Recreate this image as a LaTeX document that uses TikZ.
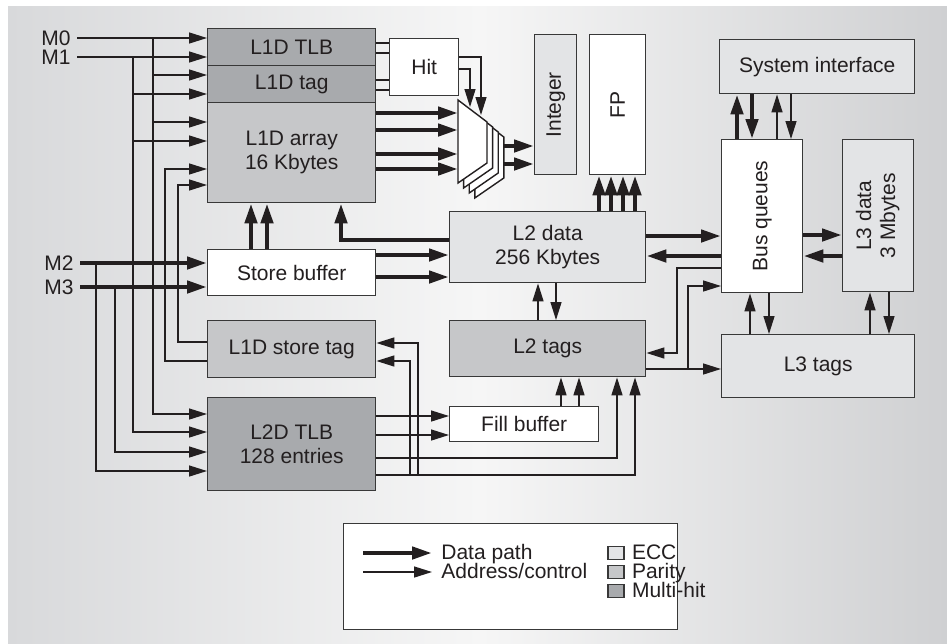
\documentclass[tikz,border=0pt]{standalone}
\usepackage{fontspec}
\setmainfont{Liberation Sans}
\usetikzlibrary{arrows.meta}
\definecolor{bgside}{HTML}{D8D9DB}
\definecolor{bgmid}{HTML}{F6F6F6}
\definecolor{bgright}{HTML}{CFD0D2}
\definecolor{eccfill}{HTML}{E3E4E6}
\definecolor{parfill}{HTML}{C6C7C9}
\definecolor{mhfill}{HTML}{A8AAAD}
\definecolor{inkline}{HTML}{231F20}
\definecolor{boxline}{HTML}{383838}
\tikzset{
  blk/.style={draw=boxline, line width=0.7pt, inner sep=0pt, anchor=north west, font=\fontsize{10.5}{12}\selectfont, text=inkline, align=center},
  sz/.style 2 args={minimum width=#1*0.5pt, minimum height=#2*0.5pt},
  ecc/.style={blk, fill=eccfill},
  par/.style={blk, fill=parfill},
  mhit/.style={blk, fill=mhfill},
  plain/.style={blk, fill=white},
  wire/.style={draw=inkline, line width=0.7pt},
  addr/.style={wire, -{Triangle[length=9pt, width=5.5pt]}},
  dwire/.style={draw=inkline, line width=2.2pt},
  dpath/.style={dwire, -{Triangle[length=10pt, width=6pt]}},
  lbl/.style={font=\fontsize{10.5}{12}\selectfont, text=inkline, inner sep=0pt, inner xsep=3pt, anchor=east},
  keytxt/.style={font=\fontsize{10.5}{12}\selectfont, text=inkline, inner sep=0pt, inner xsep=4.5pt, anchor=west, text height=7.6pt, text depth=1.6pt},
  keybox/.style={draw=boxline, line width=0.6pt, inner sep=0pt, minimum width=8pt, minimum height=6.5pt},
}
\begin{document}
\begin{tikzpicture}[x=0.5pt, y=-0.5pt]
  \useasboundingbox (0,0) rectangle (947,643);
  \fill[white] (0,0) rectangle (947,643);
  \shade[left color=bgside, right color=bgmid] (8,6) rectangle (480,643);
  \shade[left color=bgmid, right color=bgright] (480,6) rectangle (947,643);

  \node[mhit, sz={168}{37}] (l1dtlb) at (207,28) {L1D TLB};
  \node[mhit, sz={168}{37}] (l1dtag) at (207,65) {L1D tag};
  \node[par, sz={168}{100}] (l1darr) at (207,102) {L1D array\\16 Kbytes};
  \node[plain, sz={69}{57}] (hit) at (389,38) {Hit};
  \node[ecc, sz={42}{140}] (intg) at (534,34) {\rotatebox{90}{Integer}};
  \node[plain, sz={56}{140}] (fpu) at (589,34) {\rotatebox{90}{FP}};
  \node[ecc, sz={195}{54}] (sysif) at (719,39) {System interface};
  \node[plain, sz={81}{153}] (busq) at (721,139) {\rotatebox{90}{Bus queues}};
  \node[ecc, sz={71}{152}] (l3data) at (842,139) {\rotatebox{90}{\begin{tabular}{@{}c@{}}L3 data\\3 Mbytes\end{tabular}}};
  \node[ecc, sz={196}{71}] (l2data) at (449,211) {L2 data\\256 Kbytes};
  \node[plain, sz={168}{46}] (stbuf) at (207,249) {Store buffer};
  \node[par, sz={168}{57}] (l1dst) at (207,320) {L1D store tag};
  \node[par, sz={196}{56}] (l2tags) at (449,320) {L2 tags};
  \node[ecc, sz={193}{63}] (l3tags) at (721,334) {L3 tags};
  \node[mhit, sz={168}{93}] (l2dtlb) at (207,397) {L2D TLB\\128 entries};
  \node[plain, sz={149}{35}] (fillbuf) at (449,406) {Fill buffer};

  \node[lbl] (m0) at (77,38) {M0};
  \node[lbl] (m1) at (77,57) {M1};
  \node[lbl] (m2) at (80,263) {M2};
  \node[lbl] (m3) at (80,287) {M3};

  \foreach \k in {3,2,1,0}
    \draw[wire, fill=white, shift={(\k*5.6,\k*5)}] (458,100) -- (487,122) -- (487,163) -- (458,183) -- cycle;
  \coordinate (muxin) at (458,100);
  \coordinate (muxout) at (504,100);

  \draw[addr] (m0.east) -- (l1dtlb.west |- m0.east);
  \draw[addr] (m1.east) -- (l1dtlb.west |- m1.east);
  \draw[dpath] (m2.east) -- (stbuf.west |- m2.east);
  \draw[dpath] (m3.east) -- (stbuf.west |- m3.east);
  \draw[addr] (m0.east -| 153,0) |- (l2dtlb.west |- 0,414);
  \draw[addr] (153,75) -- (l1dtag.west |- 0,75);
  \draw[addr] (153,122) -- (l1darr.west |- 0,122);
  \draw[addr] (m1.east -| 133,0) |- (l2dtlb.west |- 0,432);
  \draw[addr] (133,94) -- (l1dtag.west |- 0,94);
  \draw[addr] (133,141) -- (l1darr.west |- 0,141);
  \draw[addr] (m3.east -| 115,0) |- (l2dtlb.west |- 0,452);
  \draw[addr] (m2.east -| 96,0) |- (l2dtlb.west |- 0,471);
  \draw[addr] (l1dst.west |- 0,342) -| (178,185) -- (l1darr.west |- 0,185);
  \draw[addr] (l1dst.west |- 0,361) -| (165,169) -- (l1darr.west |- 0,169);

  \foreach \y in {43,53} \draw[wire] (l1dtlb.east |- 0,\y) -- (hit.west |- 0,\y);
  \foreach \y in {80,90} \draw[wire] (l1dtag.east |- 0,\y) -- (hit.west |- 0,\y);
  \draw[addr] (hit.east |- 0,57) -| (481,115);
  \draw[addr] (hit.east |- 0,69) -| (470,107);
  \foreach \y in {113,130,154,169} \draw[dpath] (l1darr.east |- 0,\y) -- (muxin |- 0,\y);
  \foreach \y in {146,164} \draw[dpath] (muxout |- 0,\y) -- (intg.west |- 0,\y);

  \foreach \x in {251,267} \draw[dpath] (stbuf.north -| \x,0) -- (l1darr.south -| \x,0);
  \draw[dpath] (l2data.west |- 0,240) -| (l1darr.south -| 341,0);
  \foreach \y in {255,277} \draw[dpath] (stbuf.east |- 0,\y) -- (l2data.west |- 0,\y);
  \foreach \x in {599,611,623,635} \draw[dpath] (l2data.north -| \x,0) -- (fpu.south -| \x,0);

  \draw[addr] (l2tags.north -| 538,0) -- (l2data.south -| 538,0);
  \draw[addr] (l2data.south -| 556,0) -- (l2tags.north -| 556,0);
  \foreach \x in {561,579} \draw[addr] (fillbuf.north -| \x,0) -- (l2tags.south -| \x,0);
  \foreach \y in {416,435} \draw[addr] (l2dtlb.east |- 0,\y) -- (fillbuf.west |- 0,\y);
  \draw[addr] (l2dtlb.east |- 0,458) -| (l2tags.south -| 617,0);
  \draw[addr] (l2dtlb.east |- 0,475) -| (l2tags.south -| 635,0);
  \draw[addr] (418,475) |- (l1dst.east |- 0,343);
  \draw[addr] (410,475) |- (l1dst.east |- 0,361);

  \draw[dpath] (l2data.east |- 0,236) -- (busq.west |- 0,236);
  \draw[dpath] (busq.west |- 0,256) -- (l2data.east |- 0,256);
  \draw[addr] (busq.west |- 0,268) -| (677,353) -- (l2tags.east |- 0,353);
  \draw[addr] (l2tags.east |- 0,369) -- (l3tags.west |- 0,369);
  \draw[addr] (688,369) |- (busq.west |- 0,286);

  \draw[dpath] (busq.north -| 737,0) -- (sysif.south -| 737,0);
  \draw[dpath] (sysif.south -| 752,0) -- (busq.north -| 752,0);
  \draw[addr] (busq.north -| 777,0) -- (sysif.south -| 777,0);
  \draw[addr] (sysif.south -| 791,0) -- (busq.north -| 791,0);
  \draw[dpath] (busq.east |- 0,235) -- (l3data.west |- 0,235);
  \draw[dpath] (l3data.west |- 0,256) -- (busq.east |- 0,256);
  \draw[addr] (l3tags.north -| 750,0) -- (busq.south -| 750,0);
  \draw[addr] (busq.south -| 769,0) -- (l3tags.north -| 769,0);
  \draw[addr] (l3tags.north -| 870,0) -- (l3data.south -| 870,0);
  \draw[addr] (l3data.south -| 889,0) -- (l3tags.north -| 889,0);

  \node[plain, sz={334}{106}] (legend) at (343,523) {};
  \node[keytxt] (kdata) at (432,553) {Data path};
  \node[keytxt] (kaddr) at (432,572) {Address/control};
  \draw[dpath] (363,553) -- (kdata.west);
  \draw[addr] (363,572) -- (kaddr.west);
  \node[keybox, fill=eccfill] (kecc) at (616,553) {};
  \node[keybox, fill=parfill] (kpar) at (616,572) {};
  \node[keybox, fill=mhfill] (kmh) at (616,591) {};
  \node[keytxt, inner xsep=3.5pt] at (kecc.east) {ECC};
  \node[keytxt, inner xsep=3.5pt] at (kpar.east) {Parity};
  \node[keytxt, inner xsep=3.5pt] at (kmh.east) {Multi-hit};
\end{tikzpicture}
\end{document}
